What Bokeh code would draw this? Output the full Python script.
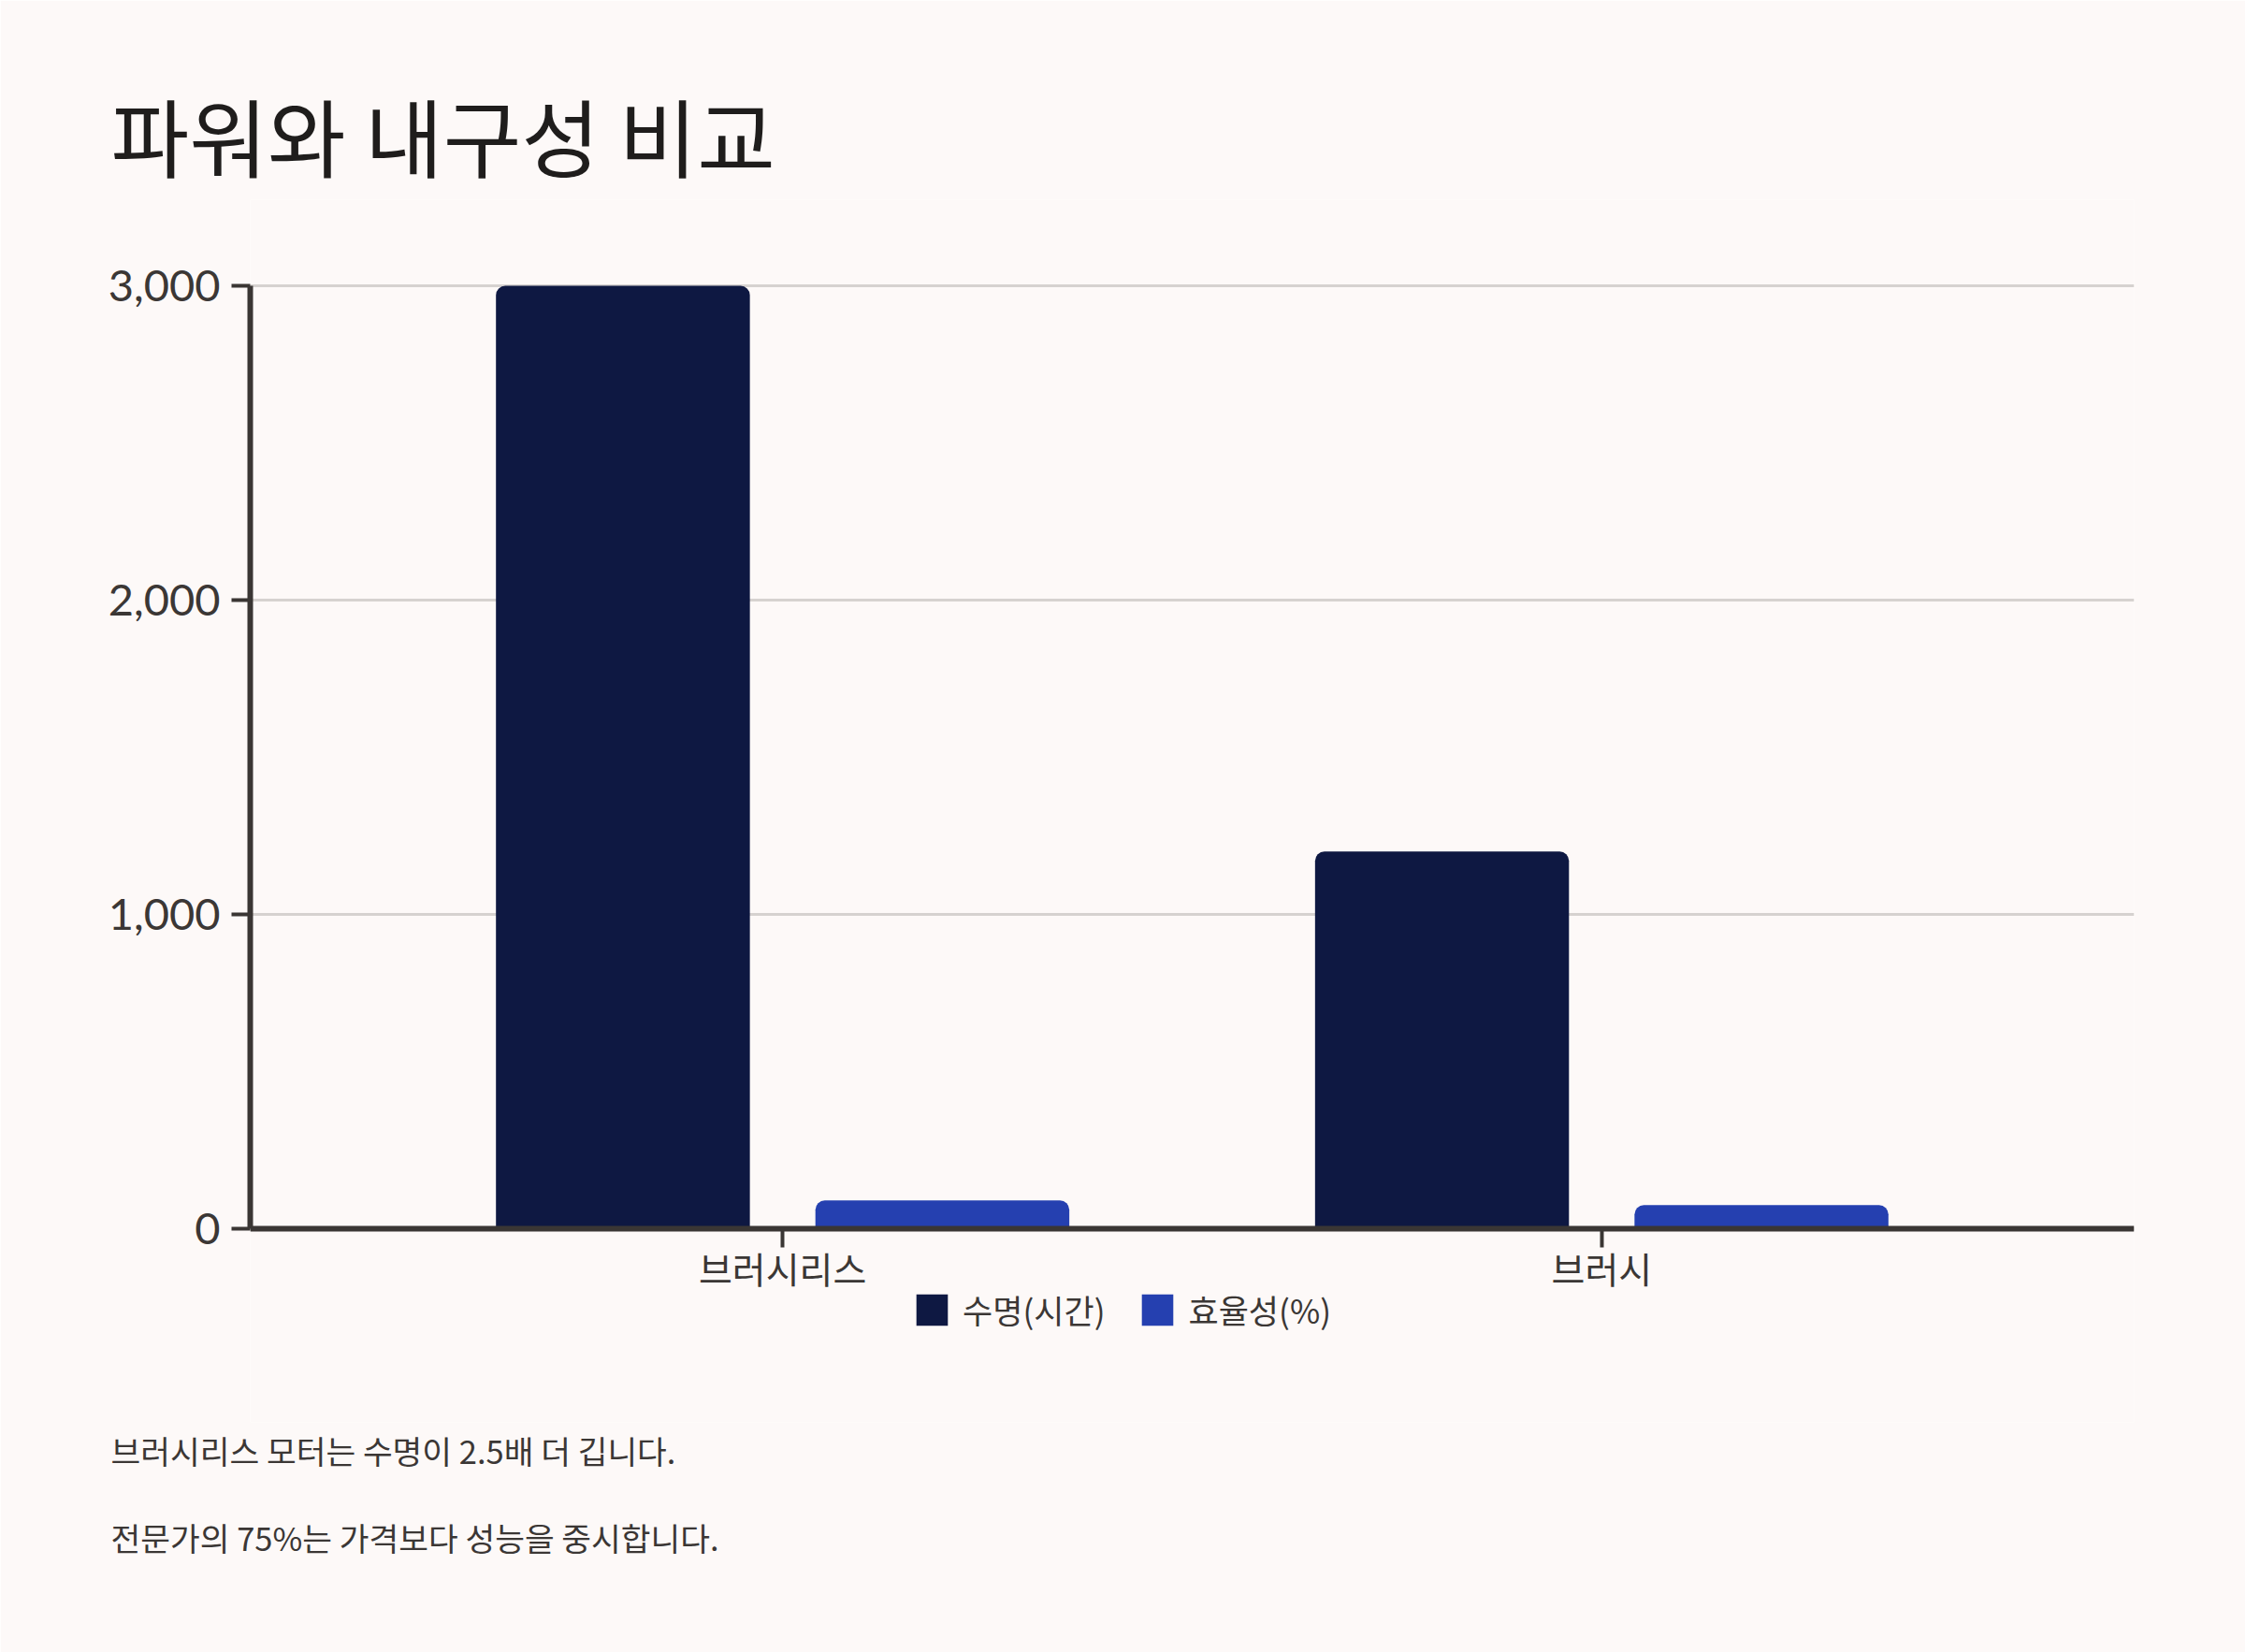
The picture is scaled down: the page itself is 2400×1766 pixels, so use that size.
from bokeh.plotting import figure
from bokeh.models import (ColumnDataSource, FactorRange, Range1d, Title, Legend, LegendItem,
                          FixedTicker, NumeralTickFormatter)
from bokeh.transform import dodge
from bokeh.embed import file_html
from bokeh.resources import INLINE

# ---- data ----
categories = ["브러시리스", "브러시"]
lifespan_hours = [3000, 1200]
efficiency_pct = [90, 75]
series_names = ["수명(시간)", "효율성(%)"]
series_colors = ["#0e1842", "#2540b0"]
y_ticks = [0, 1000, 2000, 3000]
title_text = "파워와 내구성 비교"
notes = ["브러시리스 모터는 수명이 2.5배 더 깁니다.",
         "전문가의 75%는 가격보다 성능을 중시합니다."]

BG = "#fdf9f8"
AXIS = "#3a3634"
TEXT = "#3b3735"
KR = "Noto Sans CJK KR"

# layout geometry (pixels)
W, H = 2400, 1766
FRAME_TOP, TOP_TICK_Y, ZERO_Y, FRAME_BOTTOM = 213, 305, 1313, 1520
PX_PER_UNIT = (ZERO_Y - TOP_TICK_Y) / 3000.0
y_start = -(FRAME_BOTTOM - ZERO_Y) / PX_PER_UNIT
y_end = (ZERO_Y - FRAME_TOP) / PX_PER_UNIT

src = ColumnDataSource(dict(cat=categories, life=lifespan_hours, eff=efficiency_pct))

p = figure(width=W, height=H, output_backend="svg", toolbar_location=None,
           x_range=FactorRange(factors=categories, range_padding=0.15),
           y_range=Range1d(y_start, y_end),
           min_border_left=267, min_border_right=119,
           min_border_top=FRAME_TOP, min_border_bottom=H - FRAME_BOTTOM)
p.background_fill_color = BG
p.border_fill_color = BG
p.outline_line_color = None

r1 = p.vbar(x=dodge("cat", -0.195, range=p.x_range), top="life", width=0.31, source=src,
            fill_color=series_colors[0], line_color=None, border_radius=(10, 10, 0, 0))
r2 = p.vbar(x=dodge("cat", 0.195, range=p.x_range), top="eff", width=0.31, source=src,
            fill_color=series_colors[1], line_color=None, border_radius=(10, 10, 0, 0))

p.xgrid.grid_line_color = None
p.ygrid.grid_line_color = "#d6d2d0"
p.ygrid.grid_line_width = 3
p.ygrid.ticker = FixedTicker(ticks=y_ticks)

for ax in (p.xaxis[0], p.yaxis[0]):
    ax.axis_line_color = AXIS
    ax.axis_line_width = 6
    ax.major_tick_line_color = AXIS
    ax.major_tick_line_width = 4
    ax.major_tick_in = 0
    ax.major_tick_out = 20
    ax.minor_tick_line_color = None
    ax.major_label_text_color = TEXT

p.yaxis[0].ticker = FixedTicker(ticks=y_ticks, minor_ticks=[])
p.yaxis[0].bounds = (0, 3000)
p.yaxis[0].formatter = NumeralTickFormatter(format="0,0")
p.yaxis[0].major_label_text_font = "Lato"
p.yaxis[0].major_label_text_font_size = "47px"
p.yaxis[0].major_label_standoff = 12

p.xaxis[0].fixed_location = 0
p.xaxis[0].major_label_text_font = KR
p.xaxis[0].major_label_text_font_size = "39px"
p.xaxis[0].major_label_standoff = -7

legend = Legend(items=[LegendItem(label=series_names[0], renderers=[r1]),
                       LegendItem(label=series_names[1], renderers=[r2])],
                orientation="horizontal", location=(708, FRAME_BOTTOM - 1425),
                padding=0, margin=0, spacing=35, label_standoff=12,
                glyph_width=42, glyph_height=42, label_height=42,
                label_text_font=KR, label_text_font_size="35px", label_text_color=TEXT,
                border_line_alpha=0, background_fill_alpha=0)
p.add_layout(legend, "center")

# title (above) and notes (below)
p.add_layout(Title(text=title_text, align="left", offset=-149, standoff=10,
                   text_font=KR, text_font_size="91px", text_font_style="normal",
                   text_color="#1f1d1c"), "above")
for note, gap in zip(notes, [5, 77]):
    p.add_layout(Title(text=note, align="left", offset=-149, standoff=gap,
                       text_font=KR, text_font_size="34.5px", text_font_style="normal",
                       text_color=TEXT), "below")

open("out.html", "w").write(file_html(p, INLINE))
